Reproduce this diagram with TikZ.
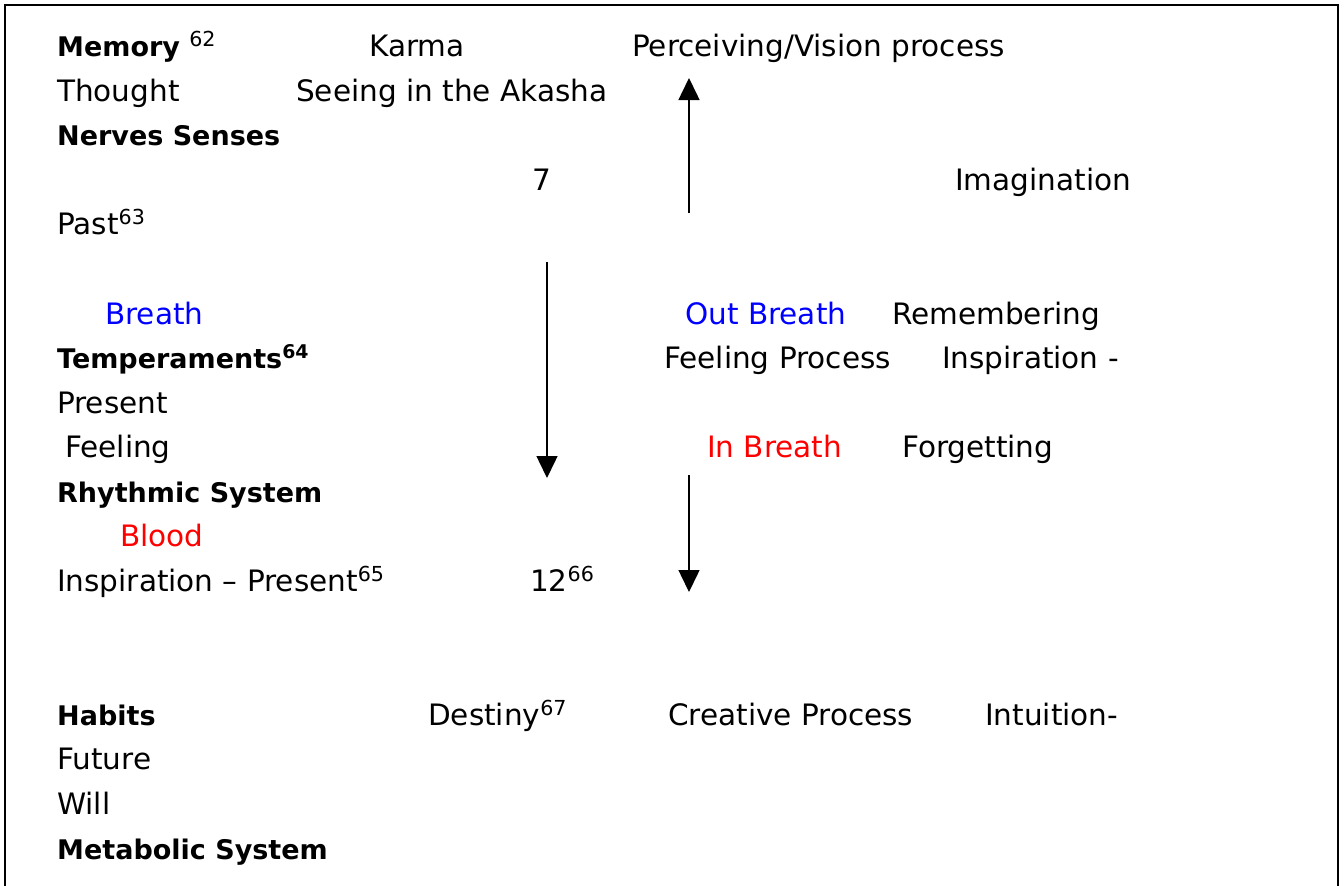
\documentclass[tikz,border=0pt]{standalone}
\usepackage{fontspec}
\setmainfont{DejaVu Sans}
\usetikzlibrary{arrows.meta}
\definecolor{breathblue}{RGB}{0,0,255}
\definecolor{bloodred}{RGB}{255,0,0}
\newcommand\headword[1]{{\fontsize{27}{33}\selectfont\bfseries #1}}
\begin{document}
\begin{tikzpicture}[x=1pt,y=-1pt]

        \useasboundingbox (0,0) rectangle (1344,886);
        \draw[line width=2pt] (5,886) -- (5,5) -- (1338,5) -- (1338,886);

        \begin{scope}[every node/.style={anchor=base west,inner sep=0pt,font=\fontsize{29.5}{35}\selectfont}]
          \node (memory)     at (57,56)   {\headword{Memory} \textsuperscript{62}};
          \node (karma)      at (369,56)  {Karma};
          \node (perceiving) at (632,56)  {Perceiving/Vision process};
          \node (thought)    at (57,101)  {Thought};
          \node (akasha)     at (296,101) {Seeing in the Akasha};
          \node (nerves)     at (57,145)  {\headword{Nerves Senses}};
          \node (seven)      at (532,190) {7};
          \node (imagination) at (955,190) {Imagination};
          \node (past)       at (57,234)  {Past\textsuperscript{63}};
          \node (breath)     at (105,324) {\color{breathblue}Breath};
          \node (outbreath)  at (685,324) {\color{breathblue}Out Breath};
          \node (remember)   at (892,324) {Remembering};
          \node (temper)     at (57,368)  {\headword{Temperaments\textsuperscript{64}}};
          \node (feelproc)   at (664,368) {Feeling Process};
          \node (inspir)     at (942,368) {Inspiration -};
          \node (present)    at (57,413)  {Present};
          \node (feeling)    at (65,457)  {Feeling};
          \node (inbreath)   at (707,457) {\color{bloodred}In Breath};
          \node (forget)     at (902,457) {Forgetting};
          \node (rhythmic)   at (57,502)  {\headword{Rhythmic System}};
          \node (blood)      at (120,546) {\color{bloodred}Blood};
          \node (inspres)    at (57,591)  {Inspiration – Present\textsuperscript{65}};
          \node (twelve)     at (530,591) {12\textsuperscript{66}};
          \node (habits)     at (57,725)  {\headword{Habits}};
          \node (destiny)    at (428,725) {Destiny\textsuperscript{67}};
          \node (creative)   at (668,725) {Creative Process};
          \node (intuition)  at (985,725) {Intuition-};
          \node (future)     at (57,769)  {Future};
          \node (will)       at (57,814)  {Will};
          \node (metabolic)  at (57,859)  {\headword{Metabolic System}};
        \end{scope}

        \coordinate (up-from)    at (689,213);
        \coordinate (up-to)      at (689,78);
        \coordinate (down-from)  at (547,262);
        \coordinate (down-to)    at (547,478);
        \coordinate (right-from) at (689,475);
        \coordinate (right-to)   at (689,592);

        \begin{scope}[every path/.style={line width=1.5pt,-{Triangle[width=21pt,length=22pt]}}]
          \draw (up-from)    -- (up-to);
          \draw (down-from)  -- (down-to);
          \draw (right-from) -- (right-to);
        \end{scope}

      \end{tikzpicture}
\end{document}
